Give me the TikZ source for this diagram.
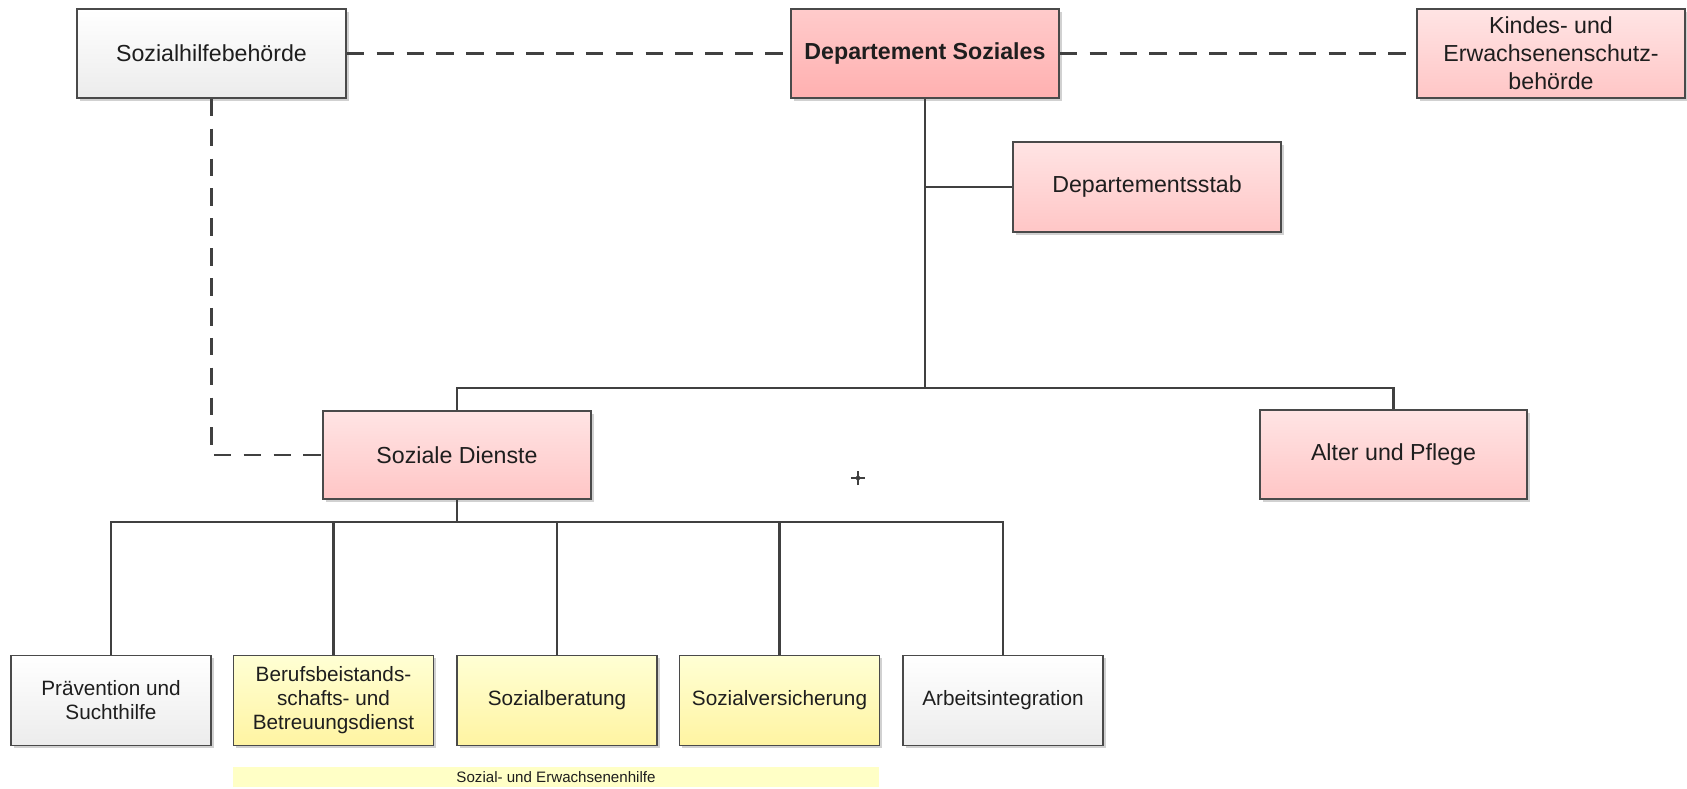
\documentclass[tikz,border=0pt]{standalone}
\usepackage{fontspec}
\setmainfont{Liberation Sans}
\usetikzlibrary{shadows}

\definecolor{boxline}{HTML}{4A4A4A}
\definecolor{linkcol}{HTML}{404040}
\definecolor{txtcol}{HTML}{1E1E1E}
\definecolor{deptop}{HTML}{FFCBCB}
\definecolor{depbot}{HTML}{FFB0B0}
\definecolor{pinktop}{HTML}{FFE4E4}
\definecolor{pinkbot}{HTML}{FFC6C6}
\definecolor{greybot}{HTML}{ECECEC}
\definecolor{yeltop}{HTML}{FFFFD4}
\definecolor{yelbot}{HTML}{FFF4A2}
\definecolor{bandcol}{HTML}{FFFFC6}

\begin{document}
\begin{tikzpicture}[x=0.02cm, y=-0.02cm,
	box/.style={draw=boxline, line width=1pt, rectangle, align=center, text=txtcol,
		minimum width=5.36cm, minimum height=1.78cm,
		font=\fontsize{13.2}{16}\selectfont,
		drop shadow={shadow xshift=1.5pt, shadow yshift=-1.5pt, opacity=0.18, fill=black}},
	deptbox/.style={box, top color=deptop, bottom color=depbot},
	pinkbox/.style={box, top color=pinktop, bottom color=pinkbot},
	greybox/.style={box, top color=white, bottom color=greybot},
	unit/.style={minimum width=4cm, minimum height=1.8cm, font=\fontsize{11.8}{13.6}\selectfont},
	yelbox/.style={box, unit, top color=yeltop, bottom color=yelbot},
	link/.style={draw=linkcol, line width=1.3pt},
	dashlink/.style={link, dash pattern=on 10pt off 7pt}]

	\useasboundingbox (0,0) rectangle (1687,788);

	% Top row
	\draw (211.5,53.5) node[greybox, minimum width=5.38cm] (sozhb) {Sozialhilfebehörde} ;
	\draw (925,53.5) node[deptbox] (dep) {\textbf{Departement Soziales}} ;
	\draw (1551,53.5) node[pinkbox] (kesb) {Kindes- und\\Erwachsenenschutz-\\behörde} ;
	% Stab
	\draw (1147,187) node[pinkbox, minimum height=1.8cm] (stab) {Departementsstab} ;
	% Second level
	\draw (457,455) node[pinkbox, minimum height=1.76cm] (sd) {Soziale Dienste} ;
	\draw (1393.5,454.5) node[pinkbox, minimum width=5.34cm] (alter) {Alter und Pflege} ;
	% Units
	\draw (111,700.5) node[greybox, unit] (praev) {Prävention und\\Suchthilfe} ;
	\draw (333.5,700.5) node[yelbox] (beruf) {Berufsbeistands-\\schafts- und\\Betreuungsdienst} ;
	\draw (557,700.5) node[yelbox] (berat) {Sozialberatung} ;
	\draw (779.5,700.5) node[yelbox] (vers) {Sozialversicherung} ;
	\draw (1003,700.5) node[greybox, unit] (arbeit) {Arbeitsintegration} ;
	% Sozial- und Erwachsenenhilfe
	\draw (556,777) node[fill=bandcol, minimum width=12.92cm, minimum height=0.4cm, inner sep=0pt,
		text=txtcol, font=\fontsize{8.6}{10}\selectfont] (band) {Sozial- und Erwachsenenhilfe} ;

	\coordinate (bar) at (925,388);
	\coordinate (sdbar) at (457,522);
	\coordinate (mark) at (858,478);

	% dashed links
	\draw[dashlink] (sozhb.east) -- (dep.west);
	\draw[dashlink] (dep.east) -- (kesb.west);
	\draw[dashlink] (sozhb.south) |- (sd.west);
	% solid links
	\draw[link] (dep.south) -- (bar);
	\draw[link] (dep.south |- stab.west) -- (stab.west);
	\draw[link] (sd.north) |- (bar) -| (alter.north);
	\draw[link] (sd.south) -- (sdbar);
	\draw[link] (praev.north) |- (sdbar) -| (arbeit.north);
	\foreach \u in {beruf, berat, vers}
		\draw[link] (\u.north) -- (\u.north |- sdbar);

	% small cross
	\draw[link, line width=1.5pt] ([xshift=-4pt]mark) -- ([xshift=4pt]mark) ([yshift=-4pt]mark) -- ([yshift=4pt]mark);
	\fill[linkcol] (mark) circle (1.3pt);

\end{tikzpicture}
\end{document}
